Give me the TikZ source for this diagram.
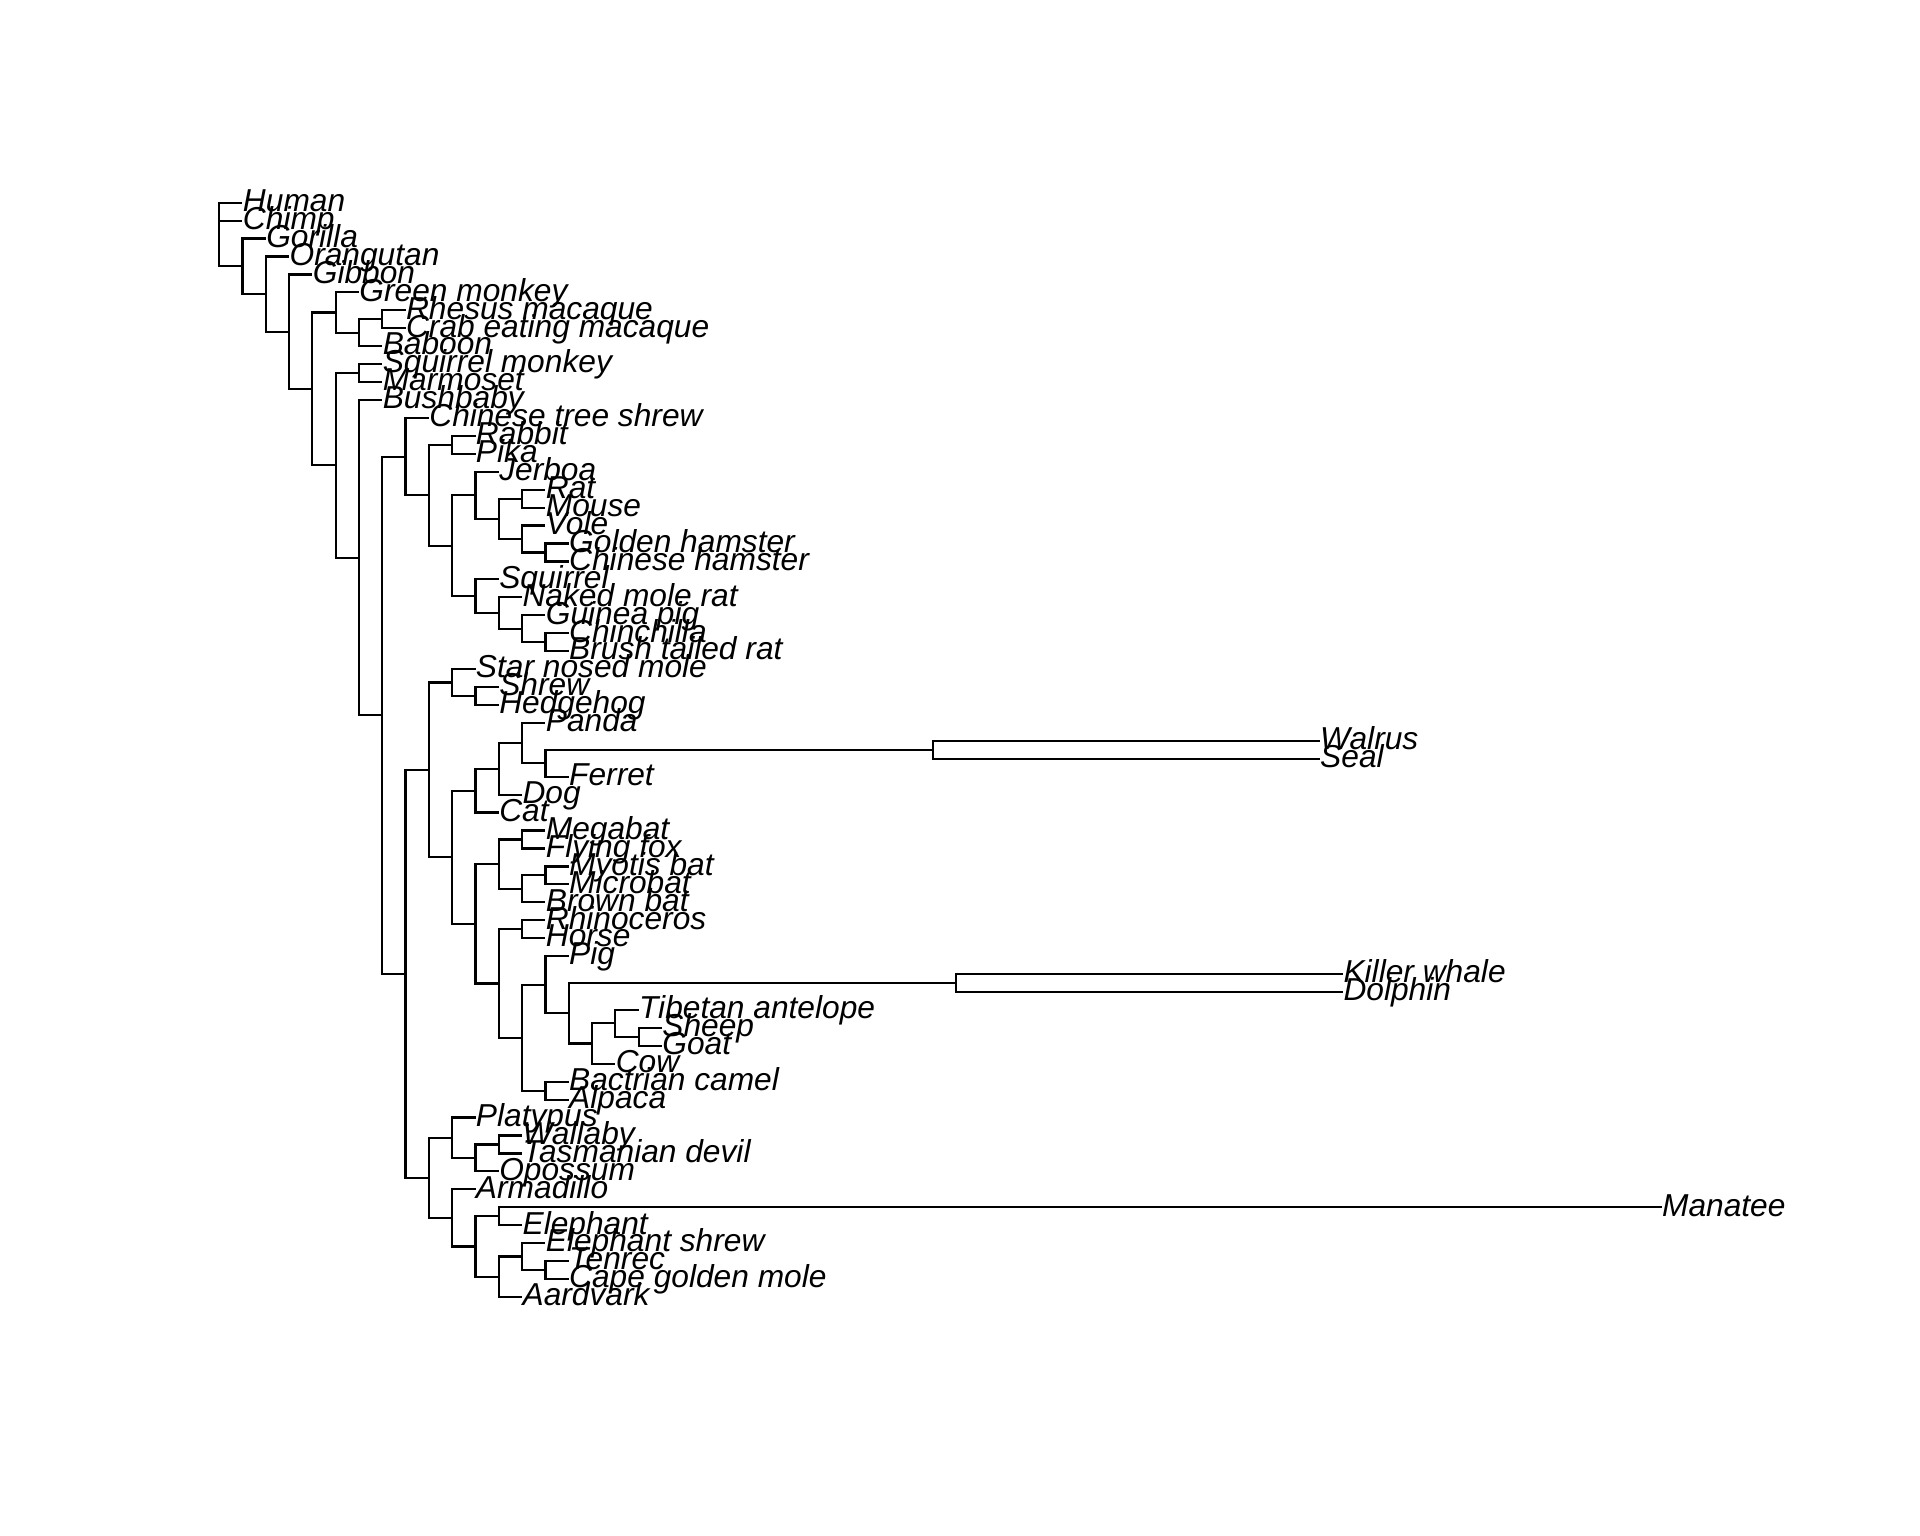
\documentclass[tikz,border=0pt]{standalone}
\usepackage{fontspec}
\setmainfont{Liberation Sans}
\usepackage{tikz}

\begin{document}
\begin{tikzpicture}[
    x=9.515pt, y=-7.325pt,
    leaf/.style={anchor=west, inner sep=0pt, text height=0.72em, text depth=0pt, font=\fontsize{12.95}{15}\selectfont\itshape},
    branch/.style={draw=black, line width=0.9pt}
]
    \useasboundingbox (-9.406,-10.297) rectangle (72.99,75.30);

    % Tips: primates
    \node[leaf] (human) at (1,1) {Human};
    \node[leaf] (chimp) at (1,2) {Chimp};
    \node[leaf] (gorilla) at (2,3) {Gorilla};
    \node[leaf] (orangutan) at (3,4) {Orangutan};
    \node[leaf] (gibbon) at (4,5) {Gibbon};
    \node[leaf] (green_monkey) at (6,6) {Green monkey};
    \node[leaf] (rhesus) at (8,7) {Rhesus macaque};
    \node[leaf] (crab_macaque) at (8,8) {Crab eating macaque};
    \node[leaf] (baboon) at (7,9) {Baboon};
    \node[leaf] (squirrel_monkey) at (7,10) {Squirrel monkey};
    \node[leaf] (marmoset) at (7,11) {Marmoset};
    \node[leaf] (bushbaby) at (7,12) {Bushbaby};

    % Tips: tree shrew and glires
    \node[leaf] (tree_shrew) at (9,13) {Chinese tree shrew};
    \node[leaf] (rabbit) at (11,14) {Rabbit};
    \node[leaf] (pika) at (11,15) {Pika};
    \node[leaf] (jerboa) at (12,16) {Jerboa};
    \node[leaf] (rat) at (14,17) {Rat};
    \node[leaf] (mouse) at (14,18) {Mouse};
    \node[leaf] (vole) at (14,19) {Vole};
    \node[leaf] (golden_hamster) at (15,20) {Golden hamster};
    \node[leaf] (chinese_hamster) at (15,21) {Chinese hamster};
    \node[leaf] (squirrel) at (12,22) {Squirrel};
    \node[leaf] (mole_rat) at (13,23) {Naked mole rat};
    \node[leaf] (guinea_pig) at (14,24) {Guinea pig};
    \node[leaf] (chinchilla) at (15,25) {Chinchilla};
    \node[leaf] (brush_rat) at (15,26) {Brush tailed rat};

    % Tips: laurasiatheria
    \node[leaf] (star_mole) at (11,27) {Star nosed mole};
    \node[leaf] (shrew) at (12,28) {Shrew};
    \node[leaf] (hedgehog) at (12,29) {Hedgehog};
    \node[leaf] (panda) at (14,30) {Panda};
    \node[leaf] (walrus) at (47.23,31) {Walrus};
    \node[leaf] (seal) at (47.23,32) {Seal};
    \node[leaf] (ferret) at (15,33) {Ferret};
    \node[leaf] (dog) at (13,34) {Dog};
    \node[leaf] (cat) at (12,35) {Cat};
    \node[leaf] (megabat) at (14,36) {Megabat};
    \node[leaf] (flying_fox) at (14,37) {Flying fox};
    \node[leaf] (myotis) at (15,38) {Myotis bat};
    \node[leaf] (microbat) at (15,39) {Microbat};
    \node[leaf] (brown_bat) at (14,40) {Brown bat};
    \node[leaf] (rhino) at (14,41) {Rhinoceros};
    \node[leaf] (horse) at (14,42) {Horse};
    \node[leaf] (pig) at (15,43) {Pig};
    \node[leaf] (killer_whale) at (48.23,44) {Killer whale};
    \node[leaf] (dolphin) at (48.23,45) {Dolphin};
    \node[leaf] (antelope) at (18,46) {Tibetan antelope};
    \node[leaf] (sheep) at (19,47) {Sheep};
    \node[leaf] (goat) at (19,48) {Goat};
    \node[leaf] (cow) at (17,49) {Cow};
    \node[leaf] (camel) at (15,50) {Bactrian camel};
    \node[leaf] (alpaca) at (15,51) {Alpaca};

    % Tips: marsupials, xenarthra, afrotheria
    \node[leaf] (platypus) at (11,52) {Platypus};
    \node[leaf] (wallaby) at (13,53) {Wallaby};
    \node[leaf] (devil) at (13,54) {Tasmanian devil};
    \node[leaf] (opossum) at (12,55) {Opossum};
    \node[leaf] (armadillo) at (11,56) {Armadillo};
    \node[leaf] (manatee) at (61.9,57) {Manatee};
    \node[leaf] (elephant) at (13,58) {Elephant};
    \node[leaf] (ele_shrew) at (14,59) {Elephant shrew};
    \node[leaf] (tenrec) at (15,60) {Tenrec};
    \node[leaf] (golden_mole) at (15,61) {Cape golden mole};
    \node[leaf] (aardvark) at (13,62) {Aardvark};

    % Internal nodes
    \coordinate (n0) at (0,2);
    \coordinate (n1) at (1,4.548);
    \coordinate (n2) at (2,6.096);
    \coordinate (n3) at (3,8.192);
    \coordinate (n4) at (4,11.384);
    \coordinate (n5) at (5,7.125);
    \coordinate (n7) at (6,8.25);
    \coordinate (n8) at (7,7.5);
    \coordinate (n6) at (5,15.643);
    \coordinate (n9) at (6,10.5);
    \coordinate (n10) at (6,20.787);
    \coordinate (n11) at (7,29.573);
    \coordinate (n12) at (8,15.156);
    \coordinate (n14) at (9,17.3125);
    \coordinate (n15) at (10,14.5);
    \coordinate (n16) at (10,20.125);
    \coordinate (n17) at (11,17.3125);
    \coordinate (n19) at (12,18.625);
    \coordinate (n20) at (13,17.5);
    \coordinate (n21) at (13,19.75);
    \coordinate (n22) at (14,20.5);
    \coordinate (n18) at (11,22.9375);
    \coordinate (n23) at (12,23.875);
    \coordinate (n24) at (13,24.75);
    \coordinate (n25) at (14,25.5);
    \coordinate (n13) at (8,43.990);
    \coordinate (n26) at (9,32.620);
    \coordinate (n28) at (10,27.75);
    \coordinate (n30) at (11,28.5);
    \coordinate (n29) at (10,37.490);
    \coordinate (n31) at (11,33.781);
    \coordinate (n33) at (12,32.5625);
    \coordinate (n34) at (13,31.125);
    \coordinate (n35) at (14,32.25);
    \coordinate (n36) at (30.63,31.5);
    \coordinate (n32) at (11,41.199);
    \coordinate (n37) at (12,37.875);
    \coordinate (n39) at (13,36.5);
    \coordinate (n40) at (13,39.25);
    \coordinate (n41) at (14,38.5);
    \coordinate (n38) at (12,44.523);
    \coordinate (n42) at (13,41.5);
    \coordinate (n43) at (13,47.547);
    \coordinate (n44) at (14,44.594);
    \coordinate (n46) at (15,46.1875);
    \coordinate (n47) at (31.63,44.5);
    \coordinate (n48) at (16,47.875);
    \coordinate (n49) at (17,46.75);
    \coordinate (n50) at (18,47.5);
    \coordinate (n45) at (14,50.5);
    \coordinate (n27) at (9,55.359);
    \coordinate (n51) at (10,53.125);
    \coordinate (n53) at (11,54.25);
    \coordinate (n54) at (12,53.5);
    \coordinate (n52) at (10,57.594);
    \coordinate (n55) at (11,59.1875);
    \coordinate (n56) at (12,57.5);
    \coordinate (n57) at (12,60.875);
    \coordinate (n58) at (13,59.75);
    \coordinate (n59) at (14,60.5);

    % Branches
    \draw[branch] (n0) |- (human.west) (n0) |- (chimp.west) (n0) |- (n1);
    \draw[branch] (n1) |- (gorilla.west) (n1) |- (n2);
    \draw[branch] (n2) |- (orangutan.west) (n2) |- (n3);
    \draw[branch] (n3) |- (gibbon.west) (n3) |- (n4);
    \draw[branch] (n4) |- (n5) (n4) |- (n6);
    \draw[branch] (n5) |- (green_monkey.west) (n5) |- (n7);
    \draw[branch] (n7) |- (n8) (n7) |- (baboon.west);
    \draw[branch] (n8) |- (rhesus.west) (n8) |- (crab_macaque.west);
    \draw[branch] (n6) |- (n9) (n6) |- (n10);
    \draw[branch] (n9) |- (squirrel_monkey.west) (n9) |- (marmoset.west);
    \draw[branch] (n10) |- (bushbaby.west) (n10) |- (n11);
    \draw[branch] (n11) |- (n12) (n11) |- (n13);

    \draw[branch] (n12) |- (tree_shrew.west) (n12) |- (n14);
    \draw[branch] (n14) |- (n15) (n14) |- (n16);
    \draw[branch] (n15) |- (rabbit.west) (n15) |- (pika.west);
    \draw[branch] (n16) |- (n17) (n16) |- (n18);
    \draw[branch] (n17) |- (jerboa.west) (n17) |- (n19);
    \draw[branch] (n19) |- (n20) (n19) |- (n21);
    \draw[branch] (n20) |- (rat.west) (n20) |- (mouse.west);
    \draw[branch] (n21) |- (vole.west) (n21) |- (n22);
    \draw[branch] (n22) |- (golden_hamster.west) (n22) |- (chinese_hamster.west);
    \draw[branch] (n18) |- (squirrel.west) (n18) |- (n23);
    \draw[branch] (n23) |- (mole_rat.west) (n23) |- (n24);
    \draw[branch] (n24) |- (guinea_pig.west) (n24) |- (n25);
    \draw[branch] (n25) |- (chinchilla.west) (n25) |- (brush_rat.west);

    \draw[branch] (n13) |- (n26) (n13) |- (n27);
    \draw[branch] (n26) |- (n28) (n26) |- (n29);
    \draw[branch] (n28) |- (star_mole.west) (n28) |- (n30);
    \draw[branch] (n30) |- (shrew.west) (n30) |- (hedgehog.west);
    \draw[branch] (n29) |- (n31) (n29) |- (n32);
    \draw[branch] (n31) |- (n33) (n31) |- (cat.west);
    \draw[branch] (n33) |- (n34) (n33) |- (dog.west);
    \draw[branch] (n34) |- (panda.west) (n34) |- (n35);
    \draw[branch] (n35) |- (n36) (n35) |- (ferret.west);
    \draw[branch] (n36) |- (walrus.west) (n36) |- (seal.west);
    \draw[branch] (n32) |- (n37) (n32) |- (n38);
    \draw[branch] (n37) |- (n39) (n37) |- (n40);
    \draw[branch] (n39) |- (megabat.west) (n39) |- (flying_fox.west);
    \draw[branch] (n40) |- (n41) (n40) |- (brown_bat.west);
    \draw[branch] (n41) |- (myotis.west) (n41) |- (microbat.west);
    \draw[branch] (n38) |- (n42) (n38) |- (n43);
    \draw[branch] (n42) |- (rhino.west) (n42) |- (horse.west);
    \draw[branch] (n43) |- (n44) (n43) |- (n45);
    \draw[branch] (n44) |- (pig.west) (n44) |- (n46);
    \draw[branch] (n46) |- (n47) (n46) |- (n48);
    \draw[branch] (n47) |- (killer_whale.west) (n47) |- (dolphin.west);
    \draw[branch] (n48) |- (n49) (n48) |- (cow.west);
    \draw[branch] (n49) |- (antelope.west) (n49) |- (n50);
    \draw[branch] (n50) |- (sheep.west) (n50) |- (goat.west);
    \draw[branch] (n45) |- (camel.west) (n45) |- (alpaca.west);

    \draw[branch] (n27) |- (n51) (n27) |- (n52);
    \draw[branch] (n51) |- (platypus.west) (n51) |- (n53);
    \draw[branch] (n53) |- (n54) (n53) |- (opossum.west);
    \draw[branch] (n54) |- (wallaby.west) (n54) |- (devil.west);
    \draw[branch] (n52) |- (armadillo.west) (n52) |- (n55);
    \draw[branch] (n55) |- (n56) (n55) |- (n57);
    \draw[branch] (n56) |- (manatee.west) (n56) |- (elephant.west);
    \draw[branch] (n57) |- (n58) (n57) |- (aardvark.west);
    \draw[branch] (n58) |- (ele_shrew.west) (n58) |- (n59);
    \draw[branch] (n59) |- (tenrec.west) (n59) |- (golden_mole.west);
\end{tikzpicture}
\end{document}
